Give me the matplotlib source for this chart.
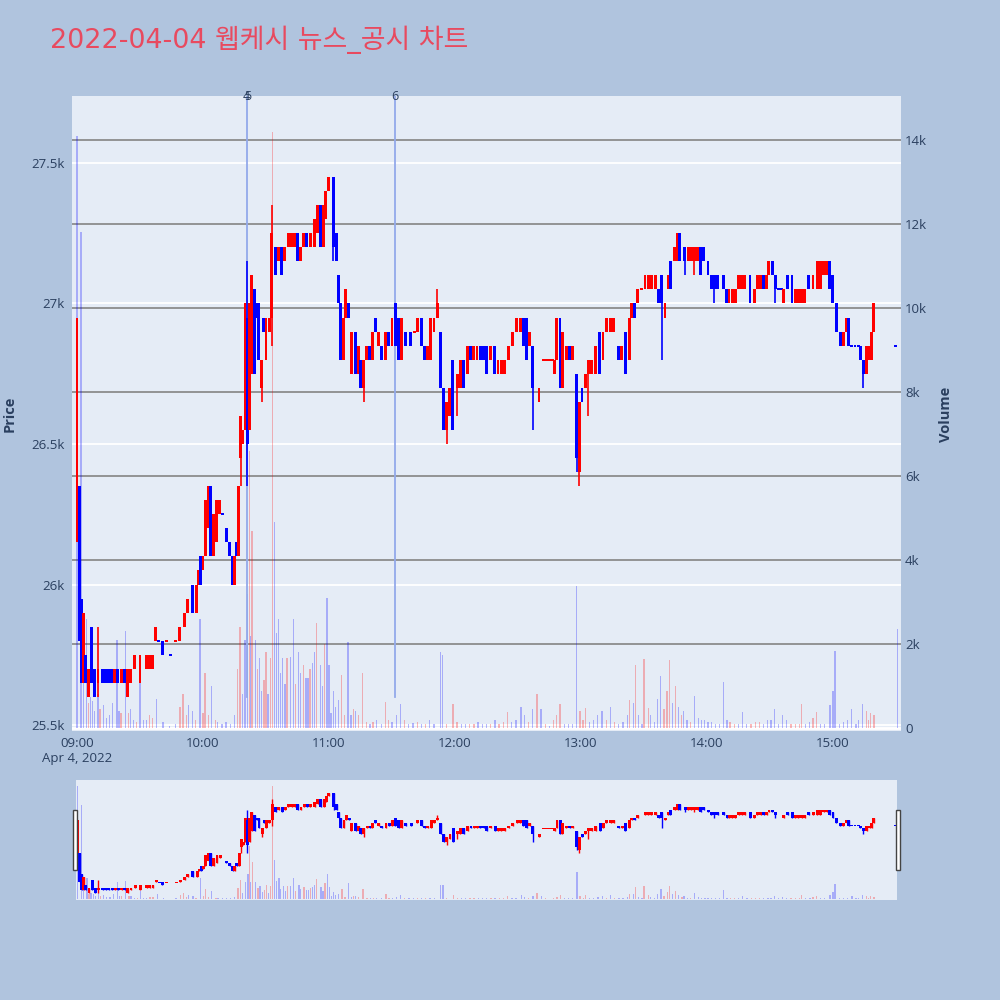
import matplotlib
matplotlib.use('Agg')
import matplotlib.pyplot as plt
from matplotlib.patches import Rectangle
from matplotlib.transforms import blended_transform_factory as blend
import numpy as np

TITLE = '2022-04-04 웹케시 뉴스_공시 차트'

# minutes after 09:00
c_time = [
    0, 1, 2, 3, 4, 5.5, 7, 8.5, 10, 12,
    13.5, 15, 16.5, 18, 19.5, 21, 22.5, 24, 25.5, 27.5,
    30, 33, 34.5, 36, 37.5, 39, 40.5, 42.5, 44.5, 47,
    49, 51, 52.5, 55, 57, 58, 59, 60, 61, 62.5,
    63.5, 65, 66.5, 68, 69.5, 71, 72.5, 74, 75, 76,
    77, 78, 79, 80, 81, 82, 83, 84.5, 85.5, 86.5,
    88, 89, 90, 91.5, 92.8, 94.5, 96, 97.5, 99, 100.5,
    102, 103.5, 105, 106.5, 108, 109.5, 111, 113, 114.5, 116,
    117.5, 118.5, 119.8, 122, 123.5, 124.5, 125.5, 127, 128, 129.5,
    130.5, 132.5, 134, 135, 136.5, 138, 139.5, 140.5, 142, 143.5,
    145, 147, 148.5, 150, 151.5, 153, 154.5, 156.5, 159, 160.5,
    162, 164, 165.5, 167, 168.5, 170, 171.5, 173, 174.5, 176,
    177.5, 179, 181, 182.5, 184, 186, 187.5, 189, 190.5, 192,
    193.5, 195, 197, 199, 200.5, 202, 203.5, 205.5, 207.5, 209.5,
    211, 212.5, 214, 215.5, 217, 220, 222, 223.5, 225, 226.5,
    227.5, 228.5, 230, 231, 233, 234.5, 236, 238, 239.2, 240.5,
    242, 243.5, 245, 247, 249, 250.5, 252, 254, 255.5, 258,
    259.5, 261, 263, 264, 265.5, 267, 269, 270.5, 272, 273.5,
    275.5, 277, 278.5, 280, 281.5, 282.5, 284.5, 286, 287, 289.5,
    291, 292.5, 294, 295.5, 297, 298.5, 300.5, 302, 303.5, 305,
    308, 309.5, 310.5, 312, 313.5, 315, 316.5, 318, 320.5, 322.5,
    324, 325.5, 327, 328.5, 329.5, 331, 332.5, 334, 335.5, 336.5,
    338.5, 340.5, 342, 343.5, 345, 346.5, 348.5, 350.5, 352.5, 354,
    355.5, 357, 358.5, 360, 361.5, 363.5, 365, 366.5, 367.5, 369,
    370.5, 372, 373, 374.5, 376, 377.5, 378.5, 379.5, 390]

c_open = [
    26150, 26350, 25950, 25650, 25750, 25600, 25850, 25700, 25650, 25700,
    25700, 25700, 25700, 25650, 25700, 25650, 25700, 25600, 25650, 25700,
    25650, 25700, 25700, 25700, 25800, 25800, 25800, 25800, 25750, 25800,
    25800, 25850, 25900, 26000, 25900, 26000, 26100, 26050, 26100, 26200,
    26350, 26100, 26150, 26250, 26250, 26200, 26150, 26100, 26000, 26150,
    26100, 26450, 26500, 26550, 26950, 26550, 26750, 27050, 27000, 27000,
    26700, 26950, 26800, 26900, 26950, 27200, 27150, 27200, 27150, 27200,
    27200, 27200, 27250, 27150, 27200, 27250, 27200, 27200, 27250, 27350,
    27200, 27300, 27400, 27450, 27250, 27100, 27000, 26800, 26950, 27000,
    26750, 26900, 26750, 26800, 26700, 26800, 26850, 26800, 26950, 26850,
    26850, 26800, 26900, 26850, 27000, 26950, 26800, 26900, 26900, 26900,
    26900, 26950, 26850, 26800, 26800, 26900, 26950, 26900, 26700, 26550,
    26600, 26800, 26700, 26700, 26800, 26750, 26850, 26800, 26800, 26850,
    26850, 26850, 26800, 26850, 26750, 26750, 26750, 26800, 26850, 26900,
    26900, 26950, 26950, 26850, 26850, 26650, 26800, 26800, 26800, 26800,
    26750, 26800, 26950, 26700, 26800, 26850, 26800, 26750, 26400, 26700,
    26700, 26750, 26750, 26750, 26900, 26800, 26900, 26900, 26900, 26850,
    26800, 26900, 26800, 26950, 27000, 27000, 27050, 27050, 27050, 27050,
    27050, 27050, 27100, 26950, 27050, 27150, 27150, 27150, 27250, 27200,
    27150, 27150, 27150, 27150, 27200, 27200, 27150, 27100, 27100, 27100,
    27100, 27050, 27000, 27000, 27000, 27050, 27050, 27050, 27100, 27000,
    27050, 27050, 27100, 27050, 27100, 27150, 27100, 27050, 27050, 27000,
    27100, 27100, 27000, 27000, 27000, 27000, 27100, 27050, 27050, 27050,
    27100, 27100, 27150, 27100, 27000, 26900, 26850, 26900, 26950, 26850,
    26850, 26850, 26850, 26800, 26750, 26800, 26800, 26900, 26850]

c_high = [
    26950, 26350, 25950, 25900, 25750, 25700, 25850, 25700, 25850, 25700,
    25700, 25700, 25700, 25700, 25700, 25700, 25700, 25700, 25700, 25750,
    25750, 25750, 25750, 25750, 25850, 25800, 25800, 25800, 25750, 25800,
    25850, 25900, 25950, 26000, 26000, 26050, 26100, 26100, 26300, 26350,
    26350, 26250, 26300, 26300, 26250, 26200, 26150, 26100, 26100, 26150,
    26350, 26600, 26550, 27000, 27150, 27000, 27100, 27050, 27000, 27000,
    26800, 26950, 26950, 26950, 27350, 27200, 27200, 27200, 27200, 27250,
    27250, 27250, 27250, 27200, 27250, 27250, 27250, 27300, 27350, 27350,
    27350, 27400, 27450, 27450, 27250, 27100, 27000, 26950, 27050, 27000,
    26900, 26900, 26850, 26800, 26800, 26850, 26850, 26900, 26950, 26900,
    26850, 26900, 26900, 26950, 27000, 26950, 26950, 26900, 26900, 26900,
    26950, 26950, 26850, 26850, 26950, 26950, 27050, 26900, 26700, 26650,
    26700, 26800, 26750, 26800, 26800, 26850, 26850, 26850, 26850, 26850,
    26850, 26850, 26850, 26850, 26800, 26800, 26800, 26850, 26900, 26950,
    26950, 26950, 26950, 26900, 26850, 26700, 26800, 26800, 26800, 26800,
    26800, 26950, 26950, 26900, 26850, 26850, 26850, 26750, 26650, 26700,
    26750, 26800, 26800, 26850, 26900, 26900, 26950, 26950, 26950, 26850,
    26850, 26900, 26950, 27000, 27000, 27050, 27050, 27100, 27100, 27100,
    27100, 27050, 27100, 27000, 27100, 27150, 27200, 27250, 27250, 27200,
    27200, 27200, 27200, 27200, 27200, 27200, 27150, 27100, 27100, 27100,
    27100, 27050, 27050, 27050, 27050, 27100, 27100, 27100, 27100, 27050,
    27100, 27100, 27100, 27100, 27150, 27150, 27100, 27050, 27050, 27050,
    27100, 27100, 27050, 27050, 27050, 27050, 27100, 27100, 27150, 27150,
    27150, 27150, 27150, 27100, 27000, 26900, 26900, 26950, 26950, 26850,
    26850, 26850, 26850, 26800, 26850, 26850, 26900, 27000, 26850]

c_low = [
    26150, 25800, 25650, 25650, 25650, 25600, 25650, 25600, 25600, 25650,
    25650, 25650, 25650, 25650, 25650, 25650, 25650, 25600, 25650, 25700,
    25650, 25700, 25700, 25700, 25800, 25800, 25750, 25800, 25750, 25800,
    25800, 25850, 25900, 25900, 25900, 26000, 26000, 26050, 26100, 26200,
    26100, 26100, 26150, 26250, 26250, 26150, 26100, 26000, 26000, 26100,
    26100, 26350, 26500, 26550, 26350, 26550, 26750, 26750, 26950, 26800,
    26650, 26900, 26800, 26900, 26850, 27100, 27150, 27100, 27150, 27200,
    27200, 27200, 27150, 27150, 27200, 27200, 27200, 27200, 27250, 27200,
    27200, 27300, 27400, 27150, 27150, 27000, 26800, 26800, 26950, 26950,
    26750, 26750, 26750, 26700, 26650, 26800, 26800, 26800, 26900, 26850,
    26800, 26800, 26850, 26850, 26850, 26800, 26800, 26850, 26850, 26900,
    26900, 26850, 26800, 26800, 26800, 26900, 26950, 26700, 26550, 26500,
    26600, 26550, 26600, 26700, 26700, 26750, 26800, 26800, 26800, 26800,
    26800, 26750, 26800, 26750, 26750, 26750, 26750, 26800, 26850, 26900,
    26900, 26850, 26800, 26850, 26550, 26650, 26800, 26800, 26800, 26800,
    26750, 26800, 26700, 26700, 26800, 26800, 26800, 26400, 26350, 26650,
    26700, 26600, 26750, 26750, 26750, 26800, 26900, 26900, 26900, 26800,
    26800, 26750, 26800, 26950, 26950, 27000, 27050, 27050, 27050, 27050,
    27050, 27000, 26800, 26950, 27050, 27050, 27150, 27150, 27150, 27100,
    27150, 27150, 27100, 27150, 27100, 27150, 27100, 27050, 27000, 27050,
    27050, 27000, 27000, 27000, 27000, 27050, 27050, 27050, 27000, 27000,
    27050, 27050, 27050, 27050, 27100, 27100, 27000, 27050, 27050, 27000,
    27050, 27000, 27000, 27000, 27000, 27000, 27050, 27050, 27050, 27050,
    27100, 27100, 27050, 27000, 26900, 26850, 26850, 26900, 26850, 26850,
    26850, 26850, 26800, 26700, 26750, 26800, 26800, 26900, 26850]

c_close = [
    26950, 25800, 25650, 25900, 25650, 25700, 25650, 25600, 25700, 25650,
    25650, 25650, 25650, 25700, 25650, 25700, 25650, 25700, 25700, 25750,
    25750, 25750, 25750, 25750, 25850, 25800, 25750, 25800, 25750, 25800,
    25850, 25900, 25950, 25900, 26000, 26050, 26000, 26100, 26300, 26350,
    26100, 26250, 26300, 26300, 26250, 26150, 26100, 26000, 26100, 26100,
    26350, 26600, 26550, 27000, 26500, 27000, 27100, 26750, 26950, 26800,
    26800, 26900, 26950, 26950, 27250, 27100, 27200, 27100, 27200, 27250,
    27250, 27250, 27150, 27200, 27250, 27200, 27250, 27300, 27350, 27200,
    27350, 27400, 27450, 27200, 27150, 27000, 26800, 26950, 27050, 26950,
    26900, 26750, 26850, 26700, 26800, 26850, 26800, 26900, 26900, 26900,
    26800, 26900, 26850, 26950, 26850, 26800, 26950, 26850, 26850, 26900,
    26950, 26850, 26800, 26850, 26950, 26950, 27000, 26700, 26550, 26650,
    26700, 26550, 26750, 26800, 26700, 26850, 26800, 26850, 26850, 26800,
    26800, 26750, 26850, 26750, 26800, 26800, 26800, 26850, 26900, 26950,
    26950, 26850, 26800, 26900, 26700, 26700, 26800, 26800, 26800, 26800,
    26800, 26950, 26700, 26900, 26850, 26800, 26850, 26450, 26650, 26650,
    26750, 26800, 26800, 26850, 26750, 26900, 26950, 26950, 26950, 26800,
    26850, 26750, 26950, 27000, 26950, 27050, 27050, 27100, 27100, 27100,
    27100, 27000, 27000, 27000, 27100, 27050, 27200, 27250, 27150, 27150,
    27200, 27200, 27200, 27200, 27100, 27150, 27100, 27050, 27050, 27050,
    27050, 27000, 27050, 27050, 27050, 27100, 27100, 27100, 27000, 27050,
    27100, 27100, 27050, 27100, 27150, 27100, 27050, 27050, 27050, 27050,
    27050, 27000, 27050, 27050, 27050, 27050, 27050, 27100, 27150, 27150,
    27150, 27150, 27050, 27000, 26900, 26850, 26900, 26950, 26850, 26850,
    26850, 26850, 26800, 26750, 26850, 26850, 26900, 27000, 26850]

vol_time = [
    0, 1.9, 3, 4.5, 5.5, 6.5, 7.5, 8.5, 10, 11,
    12.5, 14, 15.5, 17, 19, 20, 21, 23, 24.5, 25.5,
    27, 28.5, 30, 31.5, 33, 34.5, 36, 38, 41, 44,
    47, 49, 50.5, 52, 53, 55, 56.5, 58.6, 60, 61,
    62.5, 64, 66, 67, 69, 71, 73, 75, 76.5, 77.6,
    78.7, 80, 81.2, 82, 82.6, 83.3, 85, 86, 87, 88,
    89, 90, 91, 92, 93, 94, 95, 96, 96.8, 98,
    99, 100, 101.5, 103, 104, 105.5, 106.3, 108, 109, 110,
    111, 112, 113, 114, 116, 117, 118, 119, 120, 121,
    122, 123, 124.5, 126, 127.5, 129, 130.5, 131.5, 132.5, 134,
    136, 138, 139.5, 141, 142.5, 145, 147, 148.5, 150, 152,
    154, 156, 158, 160, 162, 164, 166, 168, 170, 173,
    174.2, 176, 179, 181, 183, 185, 187, 189, 191, 193,
    195, 197, 199, 201, 203, 205, 207, 209, 211.5, 213,
    215, 217, 219, 221, 223, 225, 227, 228.5, 230, 232,
    234, 236, 238, 239.5, 241, 242, 244, 246, 248, 250,
    252, 254, 256, 258, 260, 262, 263, 265, 266, 267.5,
    269, 270, 272, 273, 275, 276.5, 278, 279.5, 281, 282,
    283.5, 285, 286.5, 288, 289, 290.5, 292, 294, 296, 297.5,
    299, 300.5, 302, 304, 306, 308, 309.5, 311, 313, 315,
    317, 319, 321, 323, 325, 327, 329, 330.5, 332, 334,
    336, 338, 340, 342, 344, 345, 347, 349, 350.5, 352,
    354, 356, 358.6, 360, 361, 363, 365, 367, 369, 371,
    372, 374, 376, 377, 378, 379.5, 390.6]

vol_k = [
    14.1, 11.8, 1.1, 2.6, 0.6, 0.75, 0.65, 0.4, 0.8, 0.45,
    0.55, 0.25, 0.3, 0.6, 2.1, 0.4, 0.35, 2.3, 0.35, 0.45,
    0.2, 0.15, 1.07, 0.2, 0.2, 0.3, 0.25, 0.7, 0.15, 0.05,
    0.1, 0.5, 0.8, 0.3, 0.55, 0.4, 0.2, 2.6, 0.35, 1.3,
    0.3, 1.0, 0.2, 0.15, 0.1, 0.15, 0.1, 0.3, 1.4, 2.4,
    0.8, 2.1, 3.2, 6.6, 2.2, 4.7, 2.1, 1.4, 1.66, 0.87,
    1.14, 1.8, 0.8, 1.66, 14.2, 4.9, 2.27, 2.6, 1.3, 1.66,
    1.05, 1.66, 1.7, 2.6, 1.05, 1.8, 1.3, 1.5, 1.2, 1.2,
    1.4, 1.55, 1.8, 2.5, 1.5, 1.0, 2.0, 3.1, 1.5, 0.36,
    0.87, 0.5, 0.66, 1.26, 0.3, 2.05, 0.3, 0.45, 0.4, 0.3,
    1.3, 0.15, 0.1, 0.15, 0.2, 0.1, 0.63, 0.2, 0.15, 0.3,
    0.57, 0.2, 0.1, 0.12, 0.15, 0.1, 0.1, 0.2, 0.1, 1.82,
    1.74, 0.1, 0.57, 0.15, 0.1, 0.1, 0.1, 0.1, 0.15, 0.1,
    0.1, 0.1, 0.2, 0.1, 0.15, 0.37, 0.15, 0.2, 0.5, 0.3,
    0.15, 0.45, 0.8, 0.45, 0.1, 0.05, 0.2, 0.3, 0.57, 0.1,
    0.1, 0.1, 3.37, 0.4, 0.2, 0.47, 0.15, 0.2, 0.3, 0.4,
    0.2, 0.5, 0.15, 0.1, 0.15, 0.3, 0.67, 0.6, 1.5, 0.3,
    0.1, 1.64, 0.47, 0.3, 0.15, 0.7, 1.24, 0.45, 0.87, 1.62,
    0.6, 1.0, 0.5, 0.3, 0.4, 0.2, 0.15, 0.76, 0.25, 0.2,
    0.2, 0.15, 0.15, 0.1, 0.1, 1.1, 0.2, 0.15, 0.1, 0.1,
    0.37, 0.1, 0.1, 0.15, 0.15, 0.1, 0.2, 0.2, 0.45, 0.1,
    0.3, 0.2, 0.1, 0.1, 0.1, 0.57, 0.1, 0.15, 0.25, 0.37,
    0.1, 0.1, 0.55, 0.87, 1.84, 0.1, 0.15, 0.2, 0.45, 0.1,
    0.2, 0.57, 0.4, 0.2, 0.35, 0.3, 2.35]

vol_up = [
    0, 0, 0, 0, 1, 0, 0, 0, 0, 1,
    0, 0, 0, 0, 0, 0, 1, 0, 1, 0,
    0, 1, 0, 0, 0, 1, 1, 0, 0, 0,
    0, 1, 1, 1, 0, 0, 1, 0, 1, 1,
    1, 0, 1, 0, 0, 0, 0, 0, 1, 1,
    0, 0, 0, 1, 0, 1, 0, 1, 0, 0,
    1, 1, 0, 1, 1, 0, 0, 0, 0, 0,
    0, 1, 0, 0, 1, 0, 0, 1, 0, 0,
    1, 0, 0, 1, 0, 0, 1, 0, 0, 0,
    0, 0, 0, 1, 1, 0, 0, 1, 0, 1,
    1, 1, 0, 1, 0, 0, 1, 1, 0, 0,
    0, 1, 0, 0, 1, 0, 1, 0, 0, 0,
    0, 1, 1, 1, 0, 0, 1, 1, 0, 0,
    0, 1, 0, 1, 1, 1, 0, 0, 0, 0,
    1, 0, 1, 0, 1, 0, 1, 1, 1, 0,
    0, 0, 0, 1, 1, 1, 0, 0, 0, 0,
    1, 0, 1, 0, 0, 0, 1, 0, 1, 0,
    0, 1, 1, 0, 0, 0, 0, 1, 1, 1,
    0, 1, 0, 1, 0, 0, 1, 0, 0, 0,
    0, 0, 0, 0, 0, 0, 0, 1, 1, 0,
    0, 0, 1, 1, 1, 0, 0, 0, 0, 0,
    0, 0, 1, 1, 1, 1, 0, 0, 1, 1,
    0, 0, 0, 0, 0, 0, 0, 0, 0, 0,
    0, 0, 1, 1, 1, 1, 0]

event_time = [81.0, 81.0, 151.4]
event_label = ['4', '5', '6']

hour_ticks = [0, 60, 120, 180, 240, 300, 360]
hour_labels = ['09:00\nApr 4, 2022', '10:00', '11:00', '12:00', '13:00', '14:00', '15:00']
price_ticks = [25500, 26000, 26500, 27000, 27500]
price_labels = ['25.5k', '26k', '26.5k', '27k', '27.5k']
vol_ticks = [0, 2000, 4000, 6000, 8000, 10000, 12000, 14000]
vol_labels = ['0', '2k', '4k', '6k', '8k', '10k', '12k', '14k']

# ---------------------------------------------------------------- styling
plt.rcParams['font.family'] = ['Open Sans', 'Noto Sans CJK KR', 'DejaVu Sans']
BG = '#B0C4DE'
PLOT_BG = '#E5ECF6'
RED = '#FF0000'
BLUE = '#0000FF'
TXT = '#2a3f5f'
VOL_RED = (1.0, 0.0, 0.0, 0.27)
VOL_BLUE = (0.0, 0.0, 1.0, 0.27)

n = min(len(c_time), len(c_open), len(c_high), len(c_low), len(c_close))
t = np.array(c_time[:n], float)
o = np.array(c_open[:n], float)
h = np.array(c_high[:n], float)
lo = np.array(c_low[:n], float)
c = np.array(c_close[:n], float)

up = np.zeros(n, bool)
prev = True
for i in range(n):
    if c[i] > o[i]:
        u = True
    elif c[i] < o[i]:
        u = False
    else:
        if i > 0 and c[i] > c[i - 1]:
            u = True
        elif i > 0 and c[i] < c[i - 1]:
            u = False
        else:
            u = prev
    up[i] = u
    prev = u
ccols = [RED if u else BLUE for u in up]

nv = min(len(vol_time), len(vol_k), len(vol_up))
vt = np.array(vol_time[:nv], float)
vv = np.array(vol_k[:nv], float) * 1000
vcols = [VOL_RED if u else VOL_BLUE for u in vol_up[:nv]]

fig = plt.figure(figsize=(10, 10), dpi=100, facecolor=BG)

XLIM = (-2.38, 392.4)
PLIM = (25479, 27738)
VLIM = (-71, 15048)


def draw_candles(axp, body_w, wick_lw, min_h):
    axp.vlines(t, lo, h, colors=ccols, lw=wick_lw, zorder=3)
    hgt = np.abs(c - o)
    doji = hgt < min_h
    bottoms = np.where(doji, o - min_h / 2, np.minimum(o, c))
    hgt = np.where(doji, min_h, hgt)
    axp.bar(t, hgt, width=body_w, bottom=bottoms, color=ccols,
            linewidth=0, zorder=4)


# ------------------------------------------------------------ main axes
axv = fig.add_axes([0.072, 0.269, 0.829, 0.635])
axv.set_facecolor(PLOT_BG)
axp = axv.twinx()

axv.set_xlim(*XLIM)
axv.set_ylim(*VLIM)
axp.set_ylim(*PLIM)

tr = blend(axv.transAxes, axp.transData)
for p in price_ticks:
    axv.plot([0, 1], [p, p], transform=tr, color='white', lw=1.3, zorder=0.5)
axv.axhline(0, color='white', lw=2, zorder=0.55)
for v in vol_ticks[1:]:
    axv.axhline(v, color='#8c8c8c', lw=1.3, zorder=0.6)

axv.bar(vt, vv, width=0.6, color=vcols, linewidth=0, zorder=1)

# event lines
for et in sorted(set(event_time)):
    axp.plot([et, et], [25600, PLIM[1]], color='#93A9EA', lw=1.3, zorder=2)
tr_ev = blend(axp.transData, axp.transAxes)
offs = [-0.2, 0.2, 0.0]
for et, lab, off in zip(event_time, event_label, offs):
    axp.text(et + off, 1.0, lab, transform=tr_ev, ha='center', va='center',
             fontsize=9, color=TXT, zorder=6, clip_on=False)

draw_candles(axp, 1.4, 1.2, 7)
axp.set_xlim(*XLIM)
axp.set_ylim(*PLIM)

for a in (axv, axp):
    for s in a.spines.values():
        s.set_visible(False)

axp.yaxis.set_ticks_position('left')
axp.set_yticks(price_ticks)
axp.set_yticklabels(price_labels)
axp.tick_params(axis='y', length=0, pad=5, labelsize=9.5, labelcolor=TXT,
                left=True, labelleft=True, right=False, labelright=False)

axv.yaxis.set_ticks_position('right')
axv.set_yticks(vol_ticks)
axv.set_yticklabels(vol_labels)
axv.tick_params(axis='y', length=0, pad=3, labelsize=9.5, labelcolor=TXT,
                left=False, labelleft=False, right=True, labelright=True)

axv.set_xticks(hour_ticks)
axv.set_xticklabels(hour_labels)
axv.tick_params(axis='x', length=0, pad=4, labelsize=9.5, labelcolor=TXT)
axp.tick_params(axis='x', length=0, labelbottom=False)

fig.text(0.010, 1 - 0.414, 'Price', rotation=90, ha='center', va='center',
         fontsize=10.5, fontweight='bold', color=TXT)
fig.text(0.946, 1 - 0.414, 'Volume', rotation=90, ha='center', va='center',
         fontsize=10.5, fontweight='bold', color=TXT)

fig.text(0.050, 1 - 0.040, TITLE, ha='left', va='center', fontsize=19.4,
         color='#E84A5F', family=['DejaVu Sans', 'Noto Sans CJK KR'])

# ------------------------------------------------------------ range slider
axs = fig.add_axes([0.076, 0.100, 0.821, 0.120])
axs.set_facecolor(PLOT_BG)
axs.bar(vt, vv, width=0.6, color=vcols, linewidth=0, zorder=1)
axs.set_xlim(-0.7, 390.5)
axs.set_ylim(-100, 14900)
axs2 = axs.twinx()
draw_candles(axs2, 1.4, 1.0, 12)
axs2.set_xlim(-0.7, 390.5)
axs2.set_ylim(25470, 27700)
for a in (axs, axs2):
    a.set_xticks([])
    a.set_yticks([])
    for s in a.spines.values():
        s.set_visible(False)

for x0 in (0.0732, 0.8960):
    fig.add_artist(Rectangle((x0, 0.130), 0.0042, 0.060, transform=fig.transFigure,
                             facecolor='white', edgecolor='#444444', lw=1, zorder=10))

fig.savefig('out.png', dpi=100, facecolor=BG)
